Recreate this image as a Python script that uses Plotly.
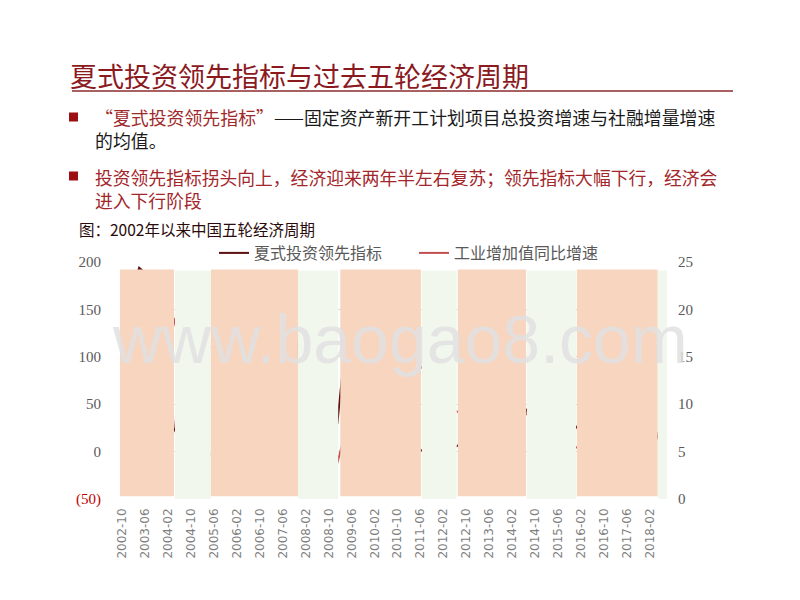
import pandas as pd
import plotly.graph_objects as go

# ---------------- data ----------------
dates = pd.date_range("2002-10-01", "2018-07-01", freq="3MS")

leading_indicator = [
    120,
    165, 194, 186, 172,
    160, 25, 8, -3,
    -6, -5, 2, 15,
    35, 55, 65, 80,
    95, 115, 135, 140,
    55, 25, 10, 5,
    30, 120, 150, 115,
    75, 45, 25, 18,
    12, 6, 0, -4,
    0, 4, 6, 22,
    42, 36, 28, 22,
    18, 30, 45, 4,
    0, 6, 12, 18,
    28, 32, 22, 18,
    15, 12, 10, 8,
    5, 22, -5,
]

industrial_growth = [
    14.2,
    15.5, 16.9, 16.5, 17.2,
    17.9, 19.1, 15.5, 15.7,
    16.9, 16.0, 16.1, 16.1,
    16.2, 16.6, 16.7, 14.7,
    17.6, 17.4, 18.0, 17.9,
    15.4, 15.7, 14.7, 8.2,
    3.8, 7.3, 10.8, 16.1,
    20.7, 17.8, 13.4, 13.1,
    14.9, 13.4, 14.0, 13.2,
    11.4, 9.3, 9.2, 9.6,
    9.9, 9.3, 9.7, 10.3,
    8.6, 8.7, 9.0, 7.7,
    6.8, 5.9, 6.0, 5.6,
    5.4, 6.0, 6.0, 6.1,
    6.3, 6.5, 6.4, 6.2,
    7.2, 7.0, 6.0,
]

# cycle phases (start, end, phase)
band_starts = ["2002-08-10", "2004-04-15", "2005-05-01", "2007-11-10", "2009-02-01",
               "2011-06-15", "2012-07-01", "2014-07-03", "2015-12-15", "2018-04-22"]
band_ends = ["2004-04-05", "2005-05-01", "2007-11-10", "2009-01-10", "2011-06-06",
             "2012-06-20", "2014-06-25", "2015-12-06", "2018-04-20", "2019-02-01"]
band_phase = ["up", "down", "up", "down", "up", "down", "up", "down", "up", "down"]

left_ticks = [-50, 0, 50, 100, 150, 200]
left_labels = ['<span style="color:#C00000">(50)</span>', "0", "50", "100", "150", "200"]
right_ticks = [0, 5, 10, 15, 20, 25]

series_names = ["夏式投资领先指标", "工业增加值同比增速"]

# ---------------- layout helpers ----------------
W, H = 800, 600
OFF = 8  # page body margin
L, R, T, B = 112, 659, 254, 491  # plot area in figure pixels


def px(x):  # screen x -> paper
    return (x - OFF - L) / (R - L)


def py(y):  # screen y -> paper
    return (B - (y - OFF)) / (B - T)


CJK = "Noto Sans CJK SC"
SERIF = "Liberation Serif"

fig = go.Figure()
fig.add_trace(go.Scatter(
    x=dates, y=leading_indicator, name=series_names[0], mode="lines",
    line=dict(color="#5C1010", width=2), yaxis="y"))
fig.add_trace(go.Scatter(
    x=dates, y=industrial_growth, name=series_names[1], mode="lines",
    line=dict(color="#C0504D", width=2), yaxis="y2"))

shapes = []
for s, e, p in zip(band_starts, band_ends, band_phase):
    if p == "up":
        col, y0, y1 = "#F8D5BF", -47, 192
    else:
        col, y0, y1 = "#F2F7EE", -53, 191
    shapes.append(dict(type="rect", xref="x", yref="y", x0=s, x1=e, y0=y0, y1=y1,
                       fillcolor=col, line=dict(width=0), layer="above"))

# title underline
shapes.append(dict(type="line", xref="paper", yref="paper", x0=px(72), x1=px(733),
                   y0=py(91), y1=py(91), line=dict(color="#8B2B2B", width=1.5)))
# bullet squares
for by in (117, 176):
    shapes.append(dict(type="rect", xref="paper", yref="paper", x0=px(69), x1=px(78),
                       y0=py(by + 4.5), y1=py(by - 4.5), fillcolor="#9B0F12",
                       line=dict(width=0)))

annotations = []


def txt(x, y, text, size, color, family=CJK, anchor="left"):
    annotations.append(dict(xref="paper", yref="paper", x=px(x), y=py(y), text=text,
                            showarrow=False, xanchor=anchor, yanchor="middle",
                            align="left",
                            font=dict(size=size, color=color, family=family)))


txt(68, 75, "夏式投资领先指标与过去五轮经济周期", 27, "#8B1A1F")
txt(93, 128, '<span style="color:#9E2A2B">“夏式投资领先指标”</span>'
    '——固定资产新开工计划项目总投资增速与社融增量增速<br>的均值。', 17.9, "#1A1A1A")
txt(93, 188, "投资领先指标拐头向上，经济迎来两年半左右复苏；领先指标大幅下行，经济会"
    "<br>进入下行阶段", 17.8, "#A3262A")
txt(77, 229, "图：2002年以来中国五轮经济周期", 15.5, "#2A0A0A")

# watermark
annotations.append(dict(xref="paper", yref="paper", x=px(400), y=py(339),
                        text="www.baogao8.com", showarrow=False,
                        xanchor="center", yanchor="middle",
                        font=dict(size=68, color="rgba(224,224,224,0.85)",
                                  family="Liberation Sans")))

fig.update_layout(
    width=W, height=H,
    margin=dict(l=L, r=W - R, t=T, b=H - B, pad=0),
    paper_bgcolor="white", plot_bgcolor="white",
    showlegend=True,
    legend=dict(orientation="h", x=px(414), y=py(253), xanchor="center",
                yanchor="middle", bgcolor="rgba(0,0,0,0)",
                font=dict(size=16, color="#595959", family=CJK),
                itemwidth=30, entrywidth=155, tracegroupgap=0),
    xaxis=dict(type="date", range=["2002-09-10", "2018-07-28"],
               tick0="2002-10-01", dtick="M8", tickformat="%Y-%m",
               tickangle=-90, showgrid=False, zeroline=False, showline=False,
               ticks="", ticklabelstandoff=6,
               tickfont=dict(size=12, color="#7F7F7F", family="DejaVu Sans")),
    yaxis=dict(range=[-50, 200], tickvals=left_ticks, ticktext=left_labels,
               showgrid=True, gridcolor="#D9D9D9", gridwidth=1, zeroline=False,
               showline=False, ticks="", ticklabelstandoff=18,
               tickfont=dict(size=15, color="#595959", family=SERIF)),
    yaxis2=dict(range=[0, 25], tickvals=right_ticks, overlaying="y", side="right",
                showgrid=False, zeroline=False, showline=False, ticks="",
                ticklabelstandoff=10,
                tickfont=dict(size=15, color="#595959", family=SERIF)),
    shapes=shapes,
    annotations=annotations,
)

fig.write_html("out.html")
